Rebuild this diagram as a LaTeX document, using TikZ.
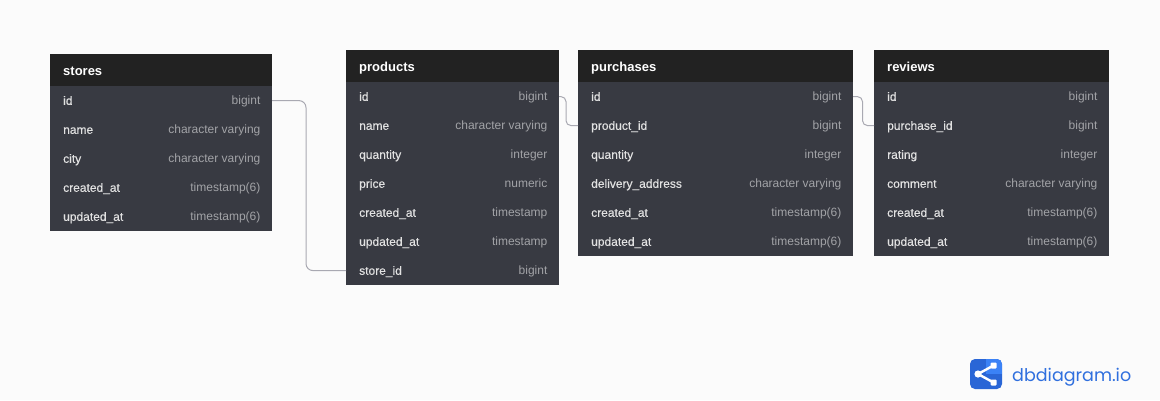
\documentclass[tikz,border=0pt]{standalone}
\usepackage{fontspec}
\setmainfont{Liberation Sans}
\newfontfamily\namefont[FakeBold=0.35]{Liberation Sans}
\newfontfamily\titlefont{Liberation Sans Bold}
\newfontfamily\logofont{Poppins}
\definecolor{pagebg}{HTML}{FBFBFB}
\definecolor{headbg}{HTML}{222222}
\definecolor{bodybg}{HTML}{383A42}
\definecolor{nametxt}{HTML}{E2E2E2}
\definecolor{typetxt}{HTML}{A2A3A7}
\definecolor{linkclr}{HTML}{A9A9B2}
\definecolor{logoblue}{HTML}{2A66D6}
\definecolor{logolight}{HTML}{3B82F6}
\definecolor{logotxt}{HTML}{2F6FDE}
\tikzset{
  headbox/.style={fill=headbg,draw=none,inner sep=0pt,outer sep=0pt,anchor=north west},
  rowbox/.style={fill=bodybg,draw=none,inner sep=0pt,outer sep=0pt,anchor=north west},
  titletxt/.style={text=white,inner sep=0pt,anchor=base west,font=\titlefont\fontsize{13}{15}\selectfont},
  nametext/.style={text=nametxt,inner sep=0pt,anchor=base west,font=\namefont\fontsize{12}{14}\selectfont},
  typetext/.style={text=typetxt,inner sep=0pt,anchor=base east,font=\fontsize{12}{14}\selectfont},
  link/.style={draw=linkclr,line width=1pt,rounded corners=7pt},
  shortlink/.style={draw=linkclr,line width=1pt,rounded corners=5pt},
}
\newcommand{\dbtable}[6]{% id, x, y, w, title, rows
  \node[headbox,minimum width=#4pt,minimum height=32pt] (#1-head) at (#2,#3) {};
  \node[titletxt] (#1-title) at ($(#2,#3)+(13,21.2)$) {#5};
  \foreach \nm/\ty [count=\ri] in {#6} {
    \node[rowbox,minimum width=#4pt,minimum height=29.2pt] (#1-\ri) at ($(#2,#3)+(0,32+29*\ri-29)$) {};
    \node[nametext] (#1-\ri-name) at ($(#2,#3)+(13,32+29*\ri-29+18.8)$) {\nm};
    \node[typetext] (#1-\ri-type) at ($(#2,#3)+(#4-11.4,32+29*\ri-29+18.8)$) {\ty};
  }
}
\usetikzlibrary{calc}
\begin{document}
\begin{tikzpicture}[x=1pt,y=-1pt]
\useasboundingbox (0,0) rectangle (1160,400);
\fill[pagebg] (0,0) rectangle (1160,400);
\dbtable{stores}{50}{54}{222}{stores}{id/bigint,name/character varying,city/character varying,created\_at/timestamp(6),updated\_at/timestamp(6)}
\dbtable{products}{346}{50}{213}{products}{id/bigint,name/character varying,quantity/integer,price/numeric,created\_at/timestamp,updated\_at/timestamp,store\_id/bigint}
\dbtable{purchases}{578}{50}{275}{purchases}{id/bigint,product\_id/bigint,quantity/integer,delivery\_address/character varying,created\_at/timestamp(6),updated\_at/timestamp(6)}
\dbtable{reviews}{874}{50}{235}{reviews}{id/bigint,purchase\_id/bigint,rating/integer,comment/character varying,created\_at/timestamp(6),updated\_at/timestamp(6)}
\draw[link] (stores-1.east) -| (306,200) |- (products-7.west);
\draw[shortlink] (products-1.east) -| (566,111) |- (purchases-2.west);
\draw[shortlink] (purchases-1.east) -| (862.5,111) |- (reviews-2.west);
% logo
\fill[logoblue,rounded corners=5pt] (970,359) rectangle (1002,389);
\begin{scope}
\clip[rounded corners=5pt] (970,359) rectangle (1002,389);
\fill[logolight] (986,359) rectangle (1002,374);
\end{scope}
\coordinate (hub) at (978,374);
\coordinate (tipa) at (993.5,365.5);
\coordinate (tipb) at (993.5,382.5);
\draw[white,line width=2.4pt] (tipa) -- (hub) -- (tipb);
\fill[white] (hub) circle (3.6pt);
\fill[white,rounded corners=1pt] (990.5,362.5) rectangle (996.5,368.5) (990.5,379.5) rectangle (996.5,385.5);
\node[text=logotxt,inner sep=0pt,anchor=base west,font=\logofont\fontsize{17.5}{20}\selectfont] (logo) at (1012,381) {dbdiagram.io};
\end{tikzpicture}
\end{document}
